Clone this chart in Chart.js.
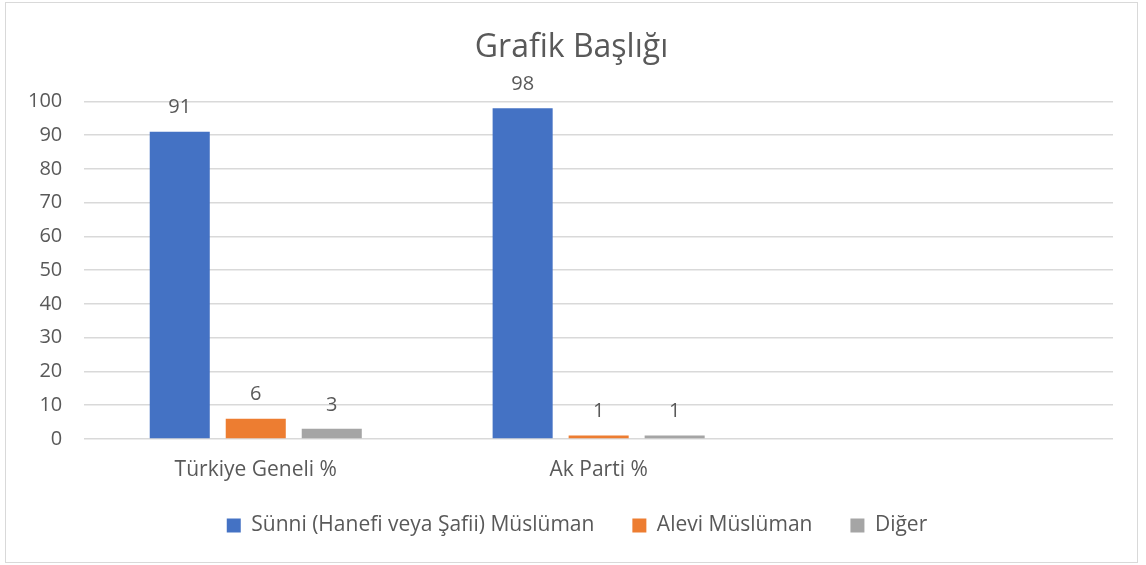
<!DOCTYPE html>
<html>
<head>
<meta charset="utf-8">
<script src="https://cdn.jsdelivr.net/npm/chart.js@4"></script>
<style>
  body { margin: 0; background: #fff; }
  #box { position: absolute; left: 5px; top: 2px; width: 1131px; height: 559px; border: 1px solid #d9d9d9; }
  #box canvas { display: block; }
</style>
</head>
<body>
<div id="box"><canvas id="chart" width="1131" height="559"></canvas></div>
<script>
const categories = ['Türkiye Geneli %', 'Ak Parti %', ''];
const sunni = [91, 98, null];
const alevi = [6, 1, null];
const diger = [3, 1, null];
const seriesNames = ['Sünni (Hanefi veya Şafii) Müslüman', 'Alevi Müslüman', 'Diğer'];
const yTicks = [0, 10, 20, 30, 40, 50, 60, 70, 80, 90, 100];

const textColor = '#595959';
const fontName = "'Open Sans', sans-serif";

// value labels above each bar
const barLabels = {
  id: 'barLabels',
  afterDatasetsDraw(chart) {
    const ctx = chart.ctx;
    ctx.save();
    ctx.fillStyle = textColor;
    ctx.font = '20px ' + fontName;
    ctx.textAlign = 'center';
    ctx.textBaseline = 'bottom';
    chart.data.datasets.forEach((ds, i) => {
      chart.getDatasetMeta(i).data.forEach((bar, j) => {
        if (ds.data[j] == null) return;
        ctx.fillText(ds.data[j], bar.x, bar.y - 14);
      });
    });
    ctx.restore();
  }
};

// excel centres title and legend on the whole box, and keeps the legend row tight
const boxLayout = {
  id: 'boxLayout',
  afterInit(chart) {
    const legend = chart.legend;
    const fit = legend.fit;
    legend.fit = function () { fit.call(this); this.height = 63; };
  },
  afterLayout(chart) {
    chart.titleBlock.right += 24;
    chart.legend.right += 24;
    chart.legend.left += 11;
    chart.legend.top -= 6;
    chart.legend.bottom -= 6;
  }
};

new Chart(document.getElementById('chart').getContext('2d'), {
  type: 'bar',
  data: {
    labels: categories,
    datasets: [
      { label: seriesNames[0], data: sunni, backgroundColor: '#4472C4' },
      { label: seriesNames[1], data: alevi, backgroundColor: '#ED7D31' },
      { label: seriesNames[2], data: diger, backgroundColor: '#A5A5A5' }
    ]
  },
  options: {
    responsive: false,
    animation: false,
    layout: { padding: { left: 0, right: 24, top: 26, bottom: 16 } },
    datasets: { bar: { categoryPercentage: 0.665, barPercentage: 0.79 } },
    plugins: {
      title: {
        display: true,
        text: 'Grafik Başlığı',
        color: textColor,
        font: { family: fontName, size: 32, weight: 'normal' },
        padding: { top: 0, bottom: 34 }
      },
      legend: {
        position: 'bottom',
        labels: {
          color: textColor,
          font: { family: fontName, size: 21 },
          boxWidth: 14,
          boxHeight: 14,
          padding: 38
        }
      },
      tooltip: { enabled: false }
    },
    scales: {
      x: {
        grid: { display: false, drawTicks: false },
        border: { display: false },
        afterFit: axis => { axis.height = 44; },
        ticks: { color: textColor, font: { family: fontName, size: 21 }, padding: 18 }
      },
      y: {
        min: 0,
        max: 100,
        afterBuildTicks: axis => { axis.ticks = yTicks.map(v => ({ value: v })); },
        grid: { color: '#d9d9d9', drawTicks: false, lineWidth: 1.5 },
        border: { display: false },
        ticks: { color: textColor, font: { family: fontName, size: 20 }, padding: 22 }
      }
    }
  },
  plugins: [barLabels, boxLayout]
});
</script>
</body>
</html>
